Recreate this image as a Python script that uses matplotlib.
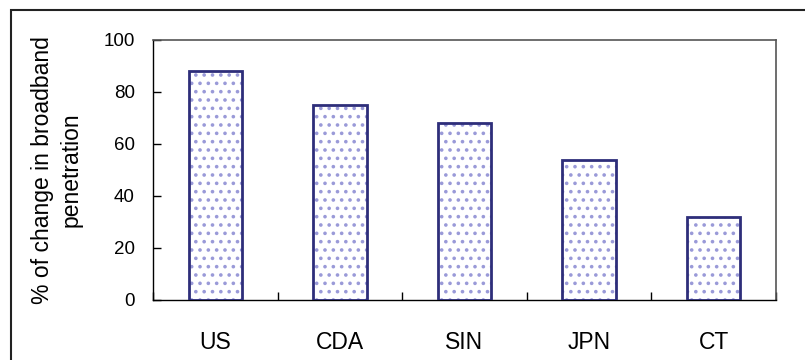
"""Bar chart: change in broadband penetration by country."""

import matplotlib.pyplot as plt
import matplotlib.patches as mpatches
import numpy as np

countries = ["US", "CDA", "SIN", "JPN", "CT"]
pct_change = [88, 75, 68, 54, 32]
y_ticks = [0, 20, 40, 60, 80, 100]

plt.rcParams["font.family"] = ["Liberation Sans", "DejaVu Sans"]
plt.rcParams["hatch.color"] = "#9a9ad8"
plt.rcParams["hatch.linewidth"] = 1.4

fig = plt.figure(figsize=(8.05, 3.6), dpi=100)
ax = fig.add_axes([153 / 805, 60 / 360, 623 / 805, 260 / 360])

x = np.arange(len(countries))
# dotted fill first, then the navy outline on top
ax.bar(x, pct_change, width=0.43, color="white", hatch="..",
       edgecolor="#9a9ad8", linewidth=0, zorder=2)
ax.bar(x, pct_change, width=0.43, fill=False, edgecolor="#2e2e7a",
       linewidth=2.0, zorder=3)

ax.set_xlim(-0.5, len(countries) - 0.5)
ax.set_ylim(0, 100)
ax.set_yticks(y_ticks)
ax.set_xticks(x)
ax.set_xticklabels(countries)
ax.set_xticks(np.arange(len(countries) + 1) - 0.5, minor=True)

ax.tick_params(axis="y", direction="in", length=6, width=1, pad=13,
               labelsize=13.5, colors="black")
ax.tick_params(axis="x", which="major", length=0, pad=22, labelsize=16.5)
ax.tick_params(axis="x", which="minor", direction="in", length=6, width=1)

ax.set_ylabel("% of change in broadband\npenetration", fontsize=16.5,
              labelpad=15, linespacing=1.3)

for side in ["left", "bottom"]:
    ax.spines[side].set_color("black")
    ax.spines[side].set_linewidth(1.0)
for side in ["top", "right"]:
    ax.spines[side].set_color("#555555")
    ax.spines[side].set_linewidth(1.2)

# outer chart border
frame = mpatches.Rectangle((11 / 805, -0.05), 1.0, 1 - 10 / 360 + 0.05,
                           transform=fig.transFigure, fill=False,
                           edgecolor="#222222", linewidth=1.5,
                           clip_on=False)
fig.patches.append(frame)

fig.savefig("out.png", dpi=100)
plt.close(fig)
